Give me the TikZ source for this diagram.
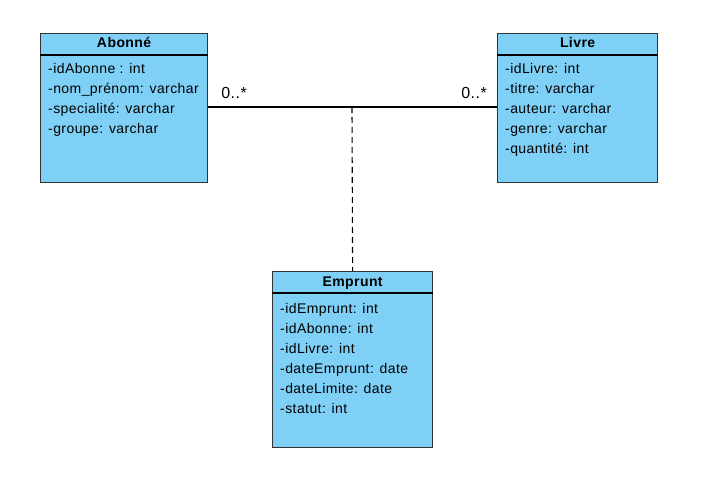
\documentclass[tikz,border=0pt]{standalone}
\usepackage{fontspec}
\setmainfont{Liberation Sans}
\definecolor{boxfill}{RGB}{126,208,246}
\definecolor{boxline}{RGB}{51,51,51}
\newfontfamily\attrfont[LetterSpace=3]{Liberation Sans}
\tikzset{
  classbox/.style={draw=boxline, fill=boxfill, line width=1.2pt, anchor=north west, inner sep=0pt},
  classtitle/.style={font=\attrfont\fontsize{14}{16}\selectfont\bfseries, inner sep=0pt, anchor=base},
  attr/.style={font=\attrfont\fontsize{14}{16}\selectfont, anchor=base west, inner sep=0pt},
  mult/.style={font=\attrfont\fontsize{16}{18}\selectfont, inner sep=0pt, anchor=base},
  conn/.style={draw=black, line width=1.1pt},
  sep/.style={draw=black, line width=1.1pt}
}
\begin{document}
\begin{tikzpicture}[x=1pt,y=-1pt]
\useasboundingbox (0,0) rectangle (702,484);
% boxes
\node[classbox, minimum width=167pt, minimum height=149pt] (abonne) at (40,33) {};
\node[classbox, minimum width=160pt, minimum height=149pt] (livre) at (497,33) {};
\node[classbox, minimum width=160pt, minimum height=176pt] (emprunt) at (272,271) {};
% header separators
\draw[sep] ([yshift=-22pt]abonne.north west) -- ([yshift=-22pt]abonne.north east);
\draw[sep] ([yshift=-22pt]livre.north west) -- ([yshift=-22pt]livre.north east);
\draw[sep] ([yshift=-22pt]emprunt.north west) -- ([yshift=-22pt]emprunt.north east);
% titles
\node[classtitle] (abonneT) at ([yshift=-15pt]abonne.north) {Abonné};
\node[classtitle] (livreT) at ([yshift=-15pt]livre.north) {Livre};
\node[classtitle] (empruntT) at ([yshift=-15.5pt]emprunt.north) {Emprunt};
% Abonne attributes
\node[attr] (a1) at (48,74) {-idAbonne : int};
\node[attr] (a2) at (48,94) {-nom\_prénom: varchar};
\node[attr] (a3) at (48,114) {-specialité: varchar};
\node[attr] (a4) at (48,134) {-groupe: varchar};
% Livre attributes
\node[attr] (l1) at (505,74) {-idLivre: int};
\node[attr] (l2) at (505,94) {-titre: varchar};
\node[attr] (l3) at (505,114) {-auteur: varchar};
\node[attr] (l4) at (505,134) {-genre: varchar};
\node[attr] (l5) at (505,154) {-quantité: int};
% Emprunt attributes
\node[attr] (e1) at (280,313) {-idEmprunt: int};
\node[attr] (e2) at (280,333) {-idAbonne: int};
\node[attr] (e3) at (280,353) {-idLivre: int};
\node[attr] (e4) at (280,373) {-dateEmprunt: date};
\node[attr] (e5) at (280,393) {-dateLimite: date};
\node[attr] (e6) at (280,413) {-statut: int};
% association
\coordinate (mid) at (352,107);
\draw[conn] (abonne.east |- mid) -- (livre.west |- mid);
\draw[conn, dash pattern=on 6pt off 4pt] (mid) -- (emprunt.north);
% multiplicities
\node[mult] (m1) at (234,99) {0..*};
\node[mult] (m2) at (474,99) {0..*};
\end{tikzpicture}
\end{document}
